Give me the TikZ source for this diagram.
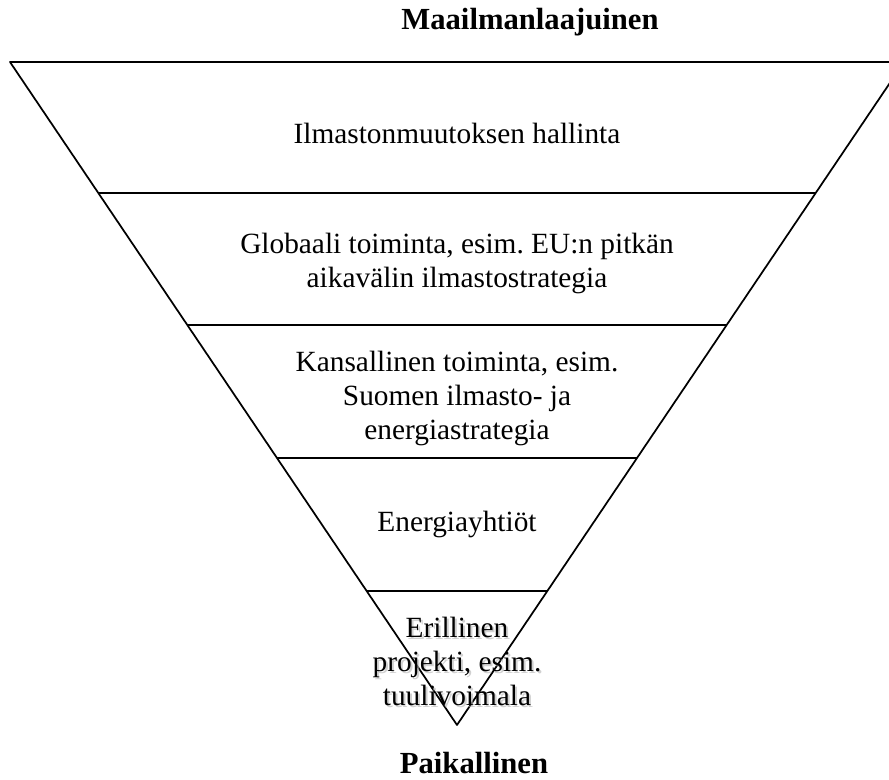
\documentclass[tikz,border=0pt]{standalone}
\usepackage{fontspec}
\setmainfont{Liberation Serif}
\frenchspacing

\begin{document}
\begin{tikzpicture}[x=0.75pt, y=-0.75pt,
    level/.style={align=center, font=\fontsize{22}{25.5}\selectfont},
    title/.style={font=\fontsize{23}{27}\selectfont\bfseries, inner sep=0pt}]
    \useasboundingbox (0,0) rectangle (889,780);
    \clip (0,0) rectangle (889,780);

    % The inverted triangle
    \draw[line width=1.3pt, line join=round] (10,62) -- (904,62) -- (457,725) -- cycle;

    % Dividing lines between the levels
    \draw[line width=1.3pt] (98,193) -- (816,193);
    \draw[line width=1.3pt] (187,325) -- (727,325);
    \draw[line width=1.3pt] (277,458) -- (637,458);
    \draw[line width=1.3pt] (366,591) -- (548,591);

    % Level texts
    \node[level] (hallinta) at (457,133) {Ilmastonmuutoksen hallinta};
    \node[level] (globaali) at (457,263) {Globaali toiminta, esim. EU:n pitkän\\aikavälin ilmastostrategia};
    \node[level] (kansallinen) at (457,398) {Kansallinen toiminta, esim.\\Suomen ilmasto- ja\\energiastrategia};
    \node[level] (yhtiot) at (457,524) {Energiayhtiöt};
    \node[level, text=black!30, opacity=0.6] (varjo) at (459,663) {Erillinen\\projekti, esim.\\tuulivoimala}; % shadow
    \node[level] (projekti) at (457,661) {Erillinen\\projekti, esim.\\tuulivoimala};

    % Ends of the scale
    \node[title] (maailma) at (530,22) {Maailmanlaajuinen};
    \node[title] (paikallinen) at (474,763) {Paikallinen};
\end{tikzpicture}
\end{document}
